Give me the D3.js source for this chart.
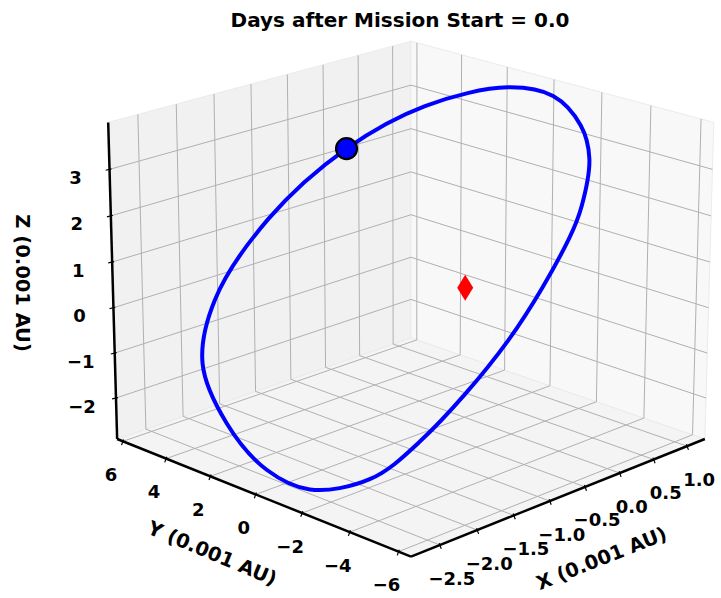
<!DOCTYPE html>
<html>
<head>
<meta charset="utf-8">
<script src="https://cdn.jsdelivr.net/npm/d3@7"></script>
<style>
body { margin: 0; background: #fff; }
svg text { font-family: "DejaVu Sans", sans-serif; font-weight: bold; fill: #000; }
</style>
</head>
<body>
<svg id="chart"></svg>
<script>
// data (units of 0.001 AU)
const titleText = "Days after Mission Start = 0.0";
const xTicks = [-2.5, -2.0, -1.5, -1.0, -0.5, 0.0, 0.5, 1.0];
const yTicks = [-6, -4, -2, 0, 2, 4, 6];
const zTicks = [-2, -1, 0, 1, 2, 3];
const xLim = [-2.88, 1.27];
const yLim = [-6.5, 6.27];
const zLim = [-2.92, 4.0];

const orbitX = [-0.128, 0.559, 0.997, 1.003, 0.737, 0.405, -0.071, -0.399, -1.357,
    -2.270, -2.613, -2.746, -2.671, -2.467, -2.213, -1.790, -1.013];
const orbitY = [4.822, 3.461, 1.168, -0.728, -2.638, -3.934, -4.990, -5.415, -5.793,
    -4.994, -3.992, -1.898, 0.191, 2.643, 4.566, 5.405, 5.516];
const orbitZ = [2.397, 3.236, 3.783, 3.856, 3.610, 3.250, 2.635, 2.159, 0.587,
    -1.169, -1.961, -2.514, -2.552, -2.118, -1.293, -0.254, 1.140];
const l2Point = [0, 0, 0];

const width = 721;
const height = 598;
const elev = 19.27, azim = -135, dist = 35, zoom = 105.45;
const cx = 411, cy = 283.1;

let svg = d3.select("#chart").attr("width", width).attr("height", height);

let scX = d3.scaleLinear().domain(xLim).range([-2, 2]);
let scY = d3.scaleLinear().domain(yLim).range([-2, 2]);
let scZ = d3.scaleLinear().domain(zLim).range([-1.59, 1.59]);

const er = elev * Math.PI / 180, ar = azim * Math.PI / 180;
const w = [Math.cos(er) * Math.cos(ar), Math.cos(er) * Math.sin(ar), Math.sin(er)];
const u = [-Math.sin(ar), Math.cos(ar), 0];
const v = [w[1] * u[2] - w[2] * u[1], w[2] * u[0] - w[0] * u[2], w[0] * u[1] - w[1] * u[0]];
let dot = (p, q) => p[0] * q[0] + p[1] * q[1] + p[2] * q[2];

let project = (x, y, z) => {
    let b = [scX(x), scY(y), scZ(z)];
    let k = dist / (dist - dot(w, b));
    return [cx + zoom * k * dot(u, b), cy - zoom * k * dot(v, b)];
};

let line = d3.line();
let [x0, x1] = xLim, [y0, y1] = yLim, [z0, z1] = zLim;

// panes
let panes = [
    {pts: [[x0, y0, z0], [x1, y0, z0], [x1, y1, z0], [x0, y1, z0]], fill: "#f4f4f4"},
    {pts: [[x0, y1, z0], [x1, y1, z0], [x1, y1, z1], [x0, y1, z1]], fill: "#f1f1f1"},
    {pts: [[x1, y0, z0], [x1, y1, z0], [x1, y1, z1], [x1, y0, z1]], fill: "#f8f8f8"}
];
svg.selectAll(".pane")
    .data(panes)
    .enter()
    .append("path")
    .attr("class", "pane")
    .attr("d", d => line(d.pts.map(p => project(...p))) + "Z")
    .style("fill", d => d.fill)
    .style("stroke", "#ebebeb")
    .style("stroke-width", 1);

// grid lines
let grid = [];
xTicks.forEach(t => {
    grid.push([[t, y0, z0], [t, y1, z0]]);
    grid.push([[t, y1, z0], [t, y1, z1]]);
});
yTicks.forEach(t => {
    grid.push([[x0, t, z0], [x1, t, z0]]);
    grid.push([[x1, t, z0], [x1, t, z1]]);
});
zTicks.forEach(t => {
    grid.push([[x0, y1, t], [x1, y1, t]]);
    grid.push([[x1, y0, t], [x1, y1, t]]);
});
svg.selectAll(".grid")
    .data(grid)
    .enter()
    .append("path")
    .attr("class", "grid")
    .attr("d", d => line(d.map(p => project(...p))))
    .style("fill", "none")
    .style("stroke", "#b0b0b0")
    .style("stroke-width", 1);

// axes
let minus = s => s.replace("-", "\u2212");
let axes = [
    {ends: [[x0, y0, z0], [x1, y0, z0]], ticks: xTicks.map(t => [t, y0, z0]), labels: xTicks.map(t => minus(d3.format(".1f")(t))), off: [12, 33]},
    {ends: [[x0, y1, z0], [x0, y0, z0]], ticks: yTicks.map(t => [x0, t, z0]), labels: yTicks.map(t => minus(String(t))), off: [-12, 33]},
    {ends: [[x0, y1, z0], [x0, y1, z1]], ticks: zTicks.map(t => [x0, y1, t]), labels: zTicks.map(t => minus(String(t))), off: [-34, 8]}
];

axes.forEach(ax => {
    svg.append("path")
        .attr("d", line(ax.ends.map(p => project(...p))))
        .style("stroke", "#000")
        .style("stroke-width", 2.5)
        .style("fill", "none");
    let len = Math.hypot(ax.off[0], ax.off[1]);
    let nx = ax.off[0] / len, ny = ax.off[1] / len;
    ax.ticks.forEach((p, i) => {
        let [px, py] = project(...p);
        svg.append("line")
            .attr("x1", px - 2 * nx).attr("y1", py - 2 * ny)
            .attr("x2", px + 4 * nx).attr("y2", py + 4 * ny)
            .style("stroke", "#000")
            .style("stroke-width", 1.2);
        svg.append("text")
            .attr("x", px + ax.off[0])
            .attr("y", py + ax.off[1])
            .attr("text-anchor", "middle")
            .attr("dominant-baseline", "central")
            .style("font-size", "18px")
            .text(ax.labels[i]);
    });
});

// axis titles
let axisTitles = [
    {p: project((x0 + x1) / 2, y0, z0), off: [38, 63], rot: -21.7, text: "X (0.001 AU)"},
    {p: project(x0, (y0 + y1) / 2, z0), off: [-46, 58], rot: 22.6, text: "Y (0.001 AU)"},
    {p: project(x0, y1, (z0 + z1) / 2), off: [-90, 0], rot: 90, text: "Z (0.001 AU)"}
];
axisTitles.forEach(t => {
    let tx = t.p[0] + t.off[0], ty = t.p[1] + t.off[1];
    svg.append("text")
        .attr("transform", `translate(${tx}, ${ty}) rotate(${t.rot})`)
        .attr("text-anchor", "middle")
        .attr("dominant-baseline", "central")
        .style("font-size", "19.5px")
        .text(t.text);
});

// orbit
let orbit = orbitX.map((x, i) => project(x, orbitY[i], orbitZ[i]));
svg.append("path")
    .attr("d", d3.line().curve(d3.curveCatmullRomClosed.alpha(0.5))(orbit))
    .style("fill", "none")
    .style("stroke", "#0000ff")
    .style("stroke-width", 4);

// L2 point
let [lx, ly] = project(...l2Point);
svg.append("path")
    .attr("d", line([[lx, ly - 13], [lx + 8, ly], [lx, ly + 13], [lx - 8, ly]]) + "Z")
    .style("fill", "#ff0000");

// spacecraft
svg.append("circle")
    .attr("cx", orbit[0][0])
    .attr("cy", orbit[0][1])
    .attr("r", 10.5)
    .style("fill", "#0000ff")
    .style("stroke", "#000")
    .style("stroke-width", 2.2);

svg.append("text")
    .attr("x", 400)
    .attr("y", 27)
    .attr("text-anchor", "middle")
    .style("font-size", "20px")
    .text(titleText);
</script>
</body>
</html>
